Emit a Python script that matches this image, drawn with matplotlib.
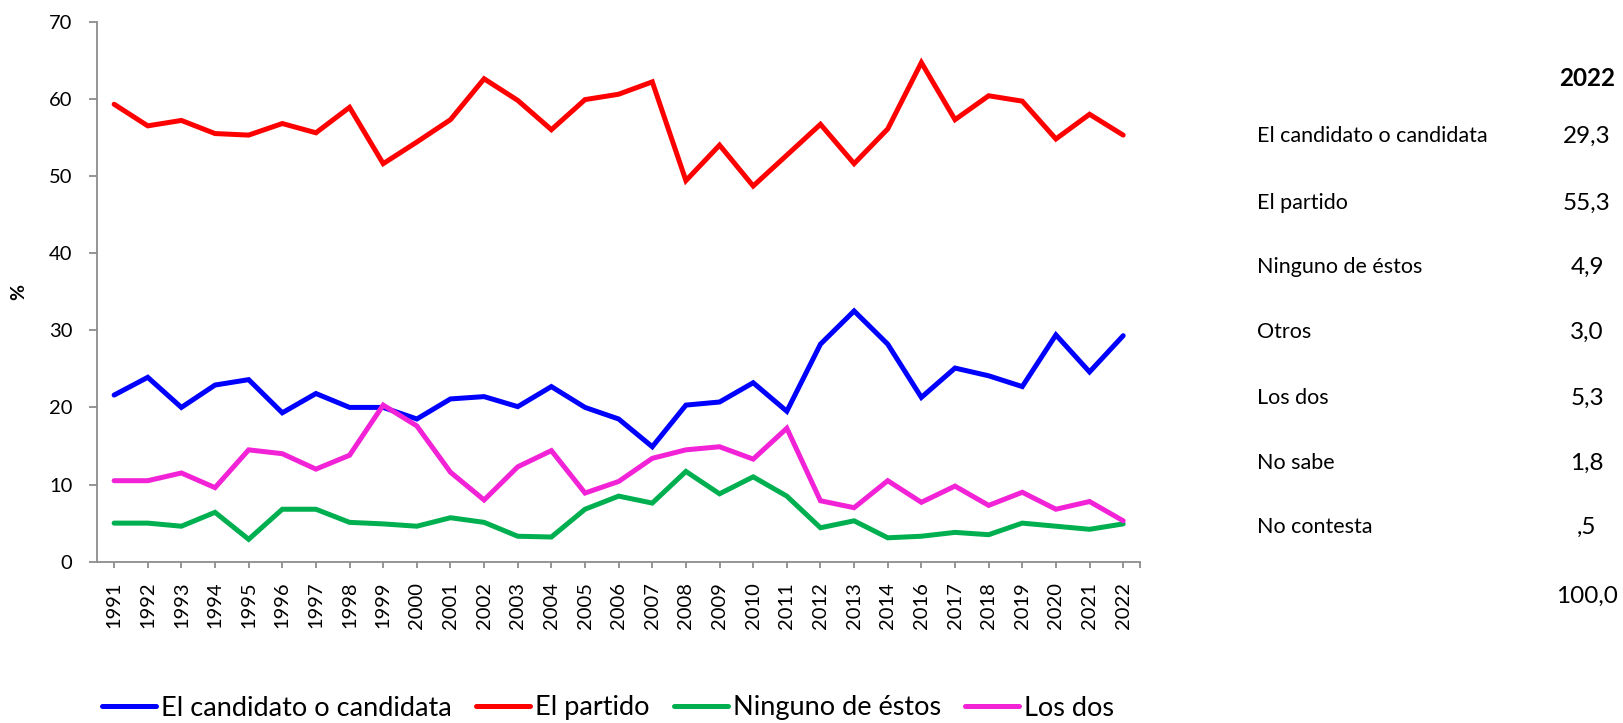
import numpy as np
import matplotlib
matplotlib.use("Agg")
import matplotlib.pyplot as plt

plt.rcParams['font.family'] = ['Lato', 'DejaVu Sans']

# Data
years = ['1991', '1992', '1993', '1994', '1995', '1996', '1997', '1998', '1999', '2000',
         '2001', '2002', '2003', '2004', '2005', '2006', '2007', '2008', '2009', '2010',
         '2011', '2012', '2013', '2014', '2016', '2017', '2018', '2019', '2020', '2021', '2022']

candidato = [21.6, 23.9, 20.0, 22.9, 23.6, 19.3, 21.8, 20.0, 20.0, 18.5,
             21.1, 21.4, 20.1, 22.7, 20.0, 18.5, 14.9, 20.3, 20.7, 23.2,
             19.5, 28.2, 32.5, 28.2, 21.3, 25.1, 24.1, 22.7, 29.4, 24.6, 29.3]

partido = [59.3, 56.5, 57.2, 55.5, 55.3, 56.8, 55.6, 58.9, 51.6, 54.4,
           57.3, 62.6, 59.8, 56.0, 59.9, 60.6, 62.2, 49.4, 54.0, 48.7,
           52.7, 56.7, 51.6, 56.1, 64.7, 57.3, 60.4, 59.7, 54.8, 58.0, 55.3]

ninguno = [5.0, 5.0, 4.6, 6.4, 2.9, 6.8, 6.8, 5.1, 4.9, 4.6,
           5.7, 5.1, 3.3, 3.2, 6.8, 8.5, 7.6, 11.7, 8.8, 11.0,
           8.5, 4.4, 5.3, 3.1, 3.3, 3.8, 3.5, 5.0, 4.6, 4.2, 4.9]

los_dos = [10.5, 10.5, 11.5, 9.6, 14.5, 14.0, 12.0, 13.8, 20.3, 17.6,
           11.6, 8.0, 12.3, 14.4, 8.9, 10.4, 13.4, 14.5, 14.9, 13.3,
           17.3, 7.9, 7.0, 10.5, 7.7, 9.8, 7.3, 9.0, 6.8, 7.8, 5.3]

series_names = ['El candidato o candidata', 'El partido', 'Ninguno de éstos', 'Los dos']
series_colors = ['#0000FF', '#FF0000', '#00B050', '#F222D6']

table_labels = ['El candidato o candidata', 'El partido', 'Ninguno de éstos', 'Otros',
                'Los dos', 'No sabe', 'No contesta', '']
table_values = ['29,3', '55,3', '4,9', '3,0', '5,3', '1,8', ',5', '100,0']

W, H = 1623, 723
fig = plt.figure(figsize=(W / 100, H / 100), dpi=100)
ax = fig.add_axes([97.3 / W, 1 - 561.7 / H, (1140 - 97.3) / W, (561.7 - 21.7) / H])

x = np.arange(len(years))
for vals, name, col in zip([candidato, partido, ninguno, los_dos], series_names, series_colors):
    ax.plot(x, vals, color=col, lw=3.6, label=name, solid_joinstyle='miter',
            solid_capstyle='round')

axis_gray = '#8C8C8C'
ax.set_xlim(-0.5, len(years) - 0.5)
ax.set_ylim(0, 70)
ax.set_yticks(range(0, 71, 10))
ax.set_xticks(x)
ax.set_xticklabels(years, rotation=90)
ax.set_xticks([len(years) - 0.5], minor=True)

for s in ['top', 'right']:
    ax.spines[s].set_visible(False)
for s in ['left', 'bottom']:
    ax.spines[s].set_color(axis_gray)
    ax.spines[s].set_linewidth(1.3)

ax.tick_params(axis='y', length=6, width=1.3, color=axis_gray, pad=12, labelsize=14.5)
ax.tick_params(axis='x', which='both', length=4.5, width=1.3, color=axis_gray, pad=10,
               labelsize=14.5)
ax.set_ylabel('%', fontweight='bold', fontsize=14, labelpad=15.5)

ax.legend(loc='center', bbox_to_anchor=(608 / W, 1 - 708 / H), bbox_transform=fig.transFigure,
          ncol=4, frameon=False, fontsize=19.5, handlelength=2.0, handletextpad=0.18,
          columnspacing=0.9)

# Side table for 2022
val_x = 1587 / W
lab_x = 1257 / W
fig.text(val_x, 1 - 78 / H, '2022', ha='center', va='center', fontsize=17.5, fontweight='bold')
row_y = [136, 203, 267, 332, 398, 463, 527, 596]
for lab, val, yy in zip(table_labels, table_values, row_y):
    fig.text(lab_x, 1 - yy / H, lab, ha='left', va='center', fontsize=15.5)
    fig.text(val_x, 1 - yy / H, val, ha='center', va='center', fontsize=17.5)

fig.savefig('out.png', dpi=100)
